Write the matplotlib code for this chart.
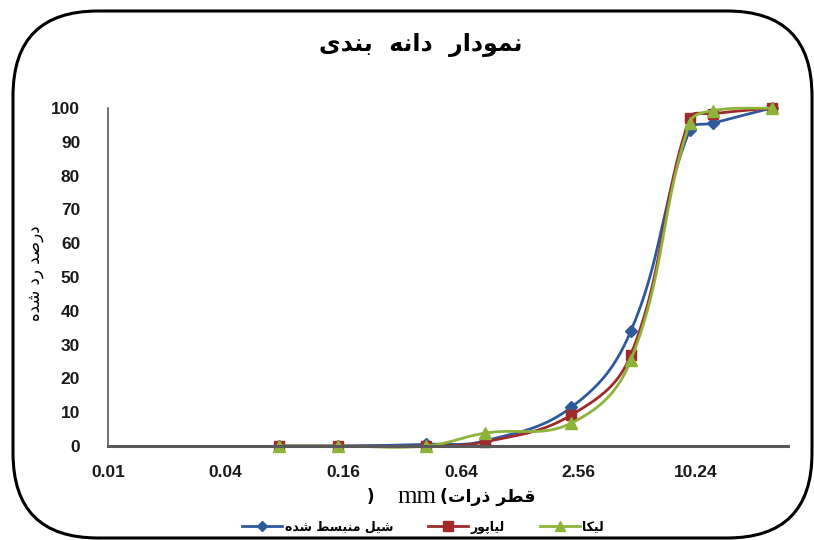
import numpy as np
import matplotlib
matplotlib.use("Agg")
import matplotlib.pyplot as plt
from matplotlib.patches import FancyBboxPatch
from matplotlib.lines import Line2D

# sieve sizes (mm) and percent passing for each aggregate
sizes = [0.075, 0.15, 0.425, 0.85, 2.36, 4.75, 9.5, 12.5, 25]
shale = [0, 0, 0.5, 1.5, 11.5, 34, 93.5, 95.5, 100]
liapor = [0, 0, 0, 1.2, 9.2, 27, 97, 98.3, 100]
leca = [0, 0, 0, 3.8, 6.8, 25.4, 95.6, 99.2, 100]

series_names = ["شیل منبسط شده", "لیاپور", "لیکا"]
xtick_vals = [0.01, 0.04, 0.16, 0.64, 2.56, 10.24]
xtick_labels = ["0.01", "0.04", "0.16", "0.64", "2.56", "10.24"]
ytick_vals = list(range(0, 101, 10))

title_text = "نمودار  دانه  بندی"
ylabel_text = "درصد رد شده"
xlabel_text = "قطر ذرات"

# contextual forms: isolated, final, initial, medial (None = right-joining only)
FORMS = {
    "ا": ("\uFE8D", "\uFE8E", None, None),
    "ب": ("\uFE8F", "\uFE90", "\uFE91", "\uFE92"),
    "ت": ("\uFE95", "\uFE96", "\uFE97", "\uFE98"),
    "د": ("\uFEA9", "\uFEAA", None, None),
    "ذ": ("\uFEAB", "\uFEAC", None, None),
    "ر": ("\uFEAD", "\uFEAE", None, None),
    "س": ("\uFEB1", "\uFEB2", "\uFEB3", "\uFEB4"),
    "ش": ("\uFEB5", "\uFEB6", "\uFEB7", "\uFEB8"),
    "ص": ("\uFEB9", "\uFEBA", "\uFEBB", "\uFEBC"),
    "ط": ("\uFEC1", "\uFEC2", "\uFEC3", "\uFEC4"),
    "ق": ("\uFED5", "\uFED6", "\uFED7", "\uFED8"),
    "ل": ("\uFEDD", "\uFEDE", "\uFEDF", "\uFEE0"),
    "م": ("\uFEE1", "\uFEE2", "\uFEE3", "\uFEE4"),
    "ن": ("\uFEE5", "\uFEE6", "\uFEE7", "\uFEE8"),
    "ه": ("\uFEE9", "\uFEEA", "\uFEEB", "\uFEEC"),
    "و": ("\uFEED", "\uFEEE", None, None),
    "پ": ("\uFB56", "\uFB57", "\uFB58", "\uFB59"),
    "ک": ("\uFB8E", "\uFB8F", "\uFB90", "\uFB91"),
    "ی": ("\uFBFC", "\uFBFD", "\uFBFE", "\uFBFF"),
}


def shape(text):
    """Join Persian letters and return them in display (left-to-right) order."""
    out = []
    for i, ch in enumerate(text):
        if ch not in FORMS:
            out.append(ch)
            continue
        prev = text[i - 1] if i > 0 else ""
        nxt = text[i + 1] if i + 1 < len(text) else ""
        join_prev = prev in FORMS and FORMS[prev][2] is not None
        join_next = FORMS[ch][2] is not None and nxt in FORMS
        iso, fin, ini, med = FORMS[ch]
        if join_prev and join_next:
            out.append(med)
        elif join_prev:
            out.append(fin)
        elif join_next:
            out.append(ini)
        else:
            out.append(iso)
    return "".join(out)[::-1]


def smooth(ax, xs, ys, n=40, k=0.4):
    """Bezier curve through the points, tangents scaled by segment length on screen."""
    data = np.column_stack([xs, ys])
    pts = ax.transData.transform(data)
    pad = np.vstack([pts[0], pts, pts[-1]])
    t = np.linspace(0, 1, n)[:, None]
    segs = []
    for i in range(len(pts) - 1):
        p0, p1, p2, p3 = pad[i], pad[i + 1], pad[i + 2], pad[i + 3]
        d01 = np.hypot(*(p1 - p0))
        d12 = np.hypot(*(p2 - p1))
        d23 = np.hypot(*(p3 - p2))
        c1 = p1 + (p2 - p0) * k * d12 / max(d01 + d12, 1e-9)
        c2 = p2 - (p3 - p1) * k * d12 / max(d12 + d23, 1e-9)
        seg = ((1 - t) ** 3) * p1 + 3 * ((1 - t) ** 2) * t * c1 + 3 * (1 - t) * t ** 2 * c2 + t ** 3 * p2
        segs.append(seg if i == 0 else seg[1:])
    curve = ax.transData.inverted().transform(np.vstack(segs))
    return curve[:, 0], curve[:, 1]


W, H = 814, 540
fig = plt.figure(figsize=(W / 100, H / 100), dpi=100)
fig.patch.set_facecolor("white")

# rounded frame around the whole chart (pixel coordinates)
frame = FancyBboxPatch((13, H - 538), 799, 527, boxstyle="round,pad=0,rounding_size=85",
                       transform=None, facecolor="none", edgecolor="black", linewidth=2.2)
fig.patches.append(frame)

ax = fig.add_axes([108 / W, 1 - 446 / H, (788 - 108) / W, (446 - 108) / H])
ax.set_xscale("log", base=2)
ax.set_xlim(0.01, 0.01 * 4 ** (680 / 117.6))
ax.set_ylim(0, 100)

styles = [
    (shale, "#2E5A9C", "D", 6),
    (liapor, "#9E2A2B", "s", 7.5),
    (leca, "#8DB33B", "^", 8.5),
]
for (vals, color, marker, ms), name in zip(styles, series_names):
    cx, cy = smooth(ax, sizes, vals)
    ax.plot(cx, cy, color=color, lw=2.0, solid_capstyle="round", clip_on=False)
    ax.plot(sizes, vals, ls="none", marker=marker, ms=ms, color=color, clip_on=False)

for side in ["top", "right"]:
    ax.spines[side].set_visible(False)
ax.spines["left"].set_color("#595959")
ax.spines["left"].set_linewidth(1.2)
ax.spines["bottom"].set_color("#595959")
ax.spines["bottom"].set_linewidth(2.2)

ax.set_xticks(xtick_vals)
ax.set_xticklabels(xtick_labels)
ax.xaxis.set_minor_locator(matplotlib.ticker.NullLocator())
ax.set_yticks(ytick_vals)
ax.tick_params(axis="both", length=0, labelsize=12.5, colors="#1a1a1a")
ax.tick_params(axis="x", pad=14)
ax.tick_params(axis="y", pad=20)
for lbl in ax.get_xticklabels() + ax.get_yticklabels():
    lbl.set_fontfamily("Liberation Sans")
    lbl.set_fontweight("bold")

# title and axis titles
fig.text(421 / W, 1 - 45 / H, shape(title_text), ha="center", va="center",
         fontsize=17, fontweight="bold", family="DejaVu Sans")
fig.text(35 / W, 1 - 273 / H, shape(ylabel_text), ha="center", va="center",
         rotation=90, fontsize=12, family="DejaVu Sans")
fig.text(535 / W, 1 - 497 / H, "(" + shape(xlabel_text), ha="right", va="center",
         fontsize=12.5, fontweight="bold", family="DejaVu Sans")
fig.text(436 / W, 1 - 497 / H, "mm", ha="right", va="center",
         fontsize=18, family="Liberation Serif")
fig.text(370 / W, 1 - 497 / H, ")", ha="center", va="center",
         fontsize=12, fontweight="bold", family="DejaVu Sans")

handles = [Line2D([], [], color=c, lw=2.0, marker=m, ms=ms * 0.9) for _, c, m, ms in styles]
fig.legend(handles, [shape(n) for n in series_names], loc="center",
           bbox_to_anchor=(423 / W, 1 - 527 / H), ncol=3, frameon=False,
           handlelength=3.2, handletextpad=0.2, columnspacing=2.8,
           prop={"family": "DejaVu Sans", "size": 9, "weight": "bold"})

fig.savefig("out.png", dpi=100)
